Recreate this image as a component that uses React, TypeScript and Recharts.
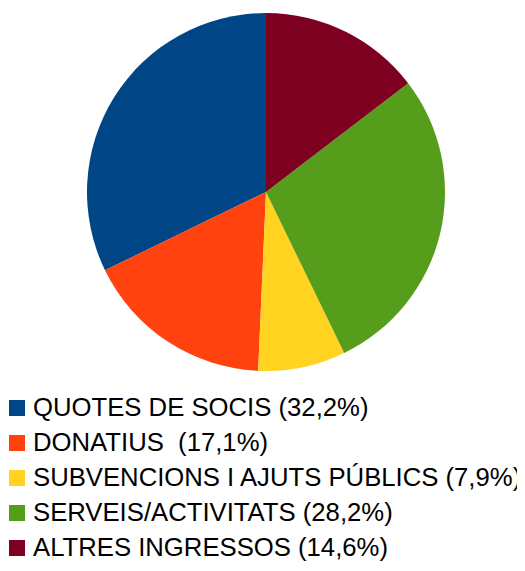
import { PieChart, Pie, Cell } from "recharts";

const categories = [
  "QUOTES DE SOCIS (32,2%)",
  "DONATIUS  (17,1%)",
  "SUBVENCIONS I AJUTS PÚBLICS (7,9%)",
  "SERVEIS/ACTIVITATS (28,2%)",
  "ALTRES INGRESSOS (14,6%)",
];
const values = [32.2, 17.1, 7.9, 28.2, 14.6];
const colors = ["#004586", "#ff420e", "#ffd320", "#579d1c", "#7e0021"];

const data = categories.map((name, i) => ({ name, value: values[i] }));

export default function App() {
  return (
    <div
      style={{
        position: "relative",
        margin: -8,
        width: 525,
        height: 571,
        fontFamily: "'Liberation Sans', Arial, sans-serif",
      }}
    >
      <PieChart width={525} height={390} margin={{ top: 0, right: 0, bottom: 0, left: 0 }}>
        <Pie
          data={data}
          dataKey="value"
          nameKey="name"
          cx={266}
          cy={192}
          outerRadius={179}
          startAngle={90}
          endAngle={450}
          stroke="none"
          isAnimationActive={false}
        >
          {data.map((d, i) => (
            <Cell key={d.name} fill={colors[i]} />
          ))}
        </Pie>
      </PieChart>
      {/* legend */}
      <div style={{ position: "absolute", left: 0, top: 390 }}>
        {categories.map((name, i) => (
          <div
            key={name}
            style={{ display: "flex", alignItems: "center", height: 35, whiteSpace: "pre" }}
          >
            <span
              style={{
                display: "inline-block",
                width: 16,
                height: 16,
                background: colors[i],
                marginLeft: 9,
                marginRight: 8,
              }}
            />
            <span style={{ fontSize: 25.7, color: "#000", lineHeight: "35px" }}>{name}</span>
          </div>
        ))}
      </div>
    </div>
  );
}
